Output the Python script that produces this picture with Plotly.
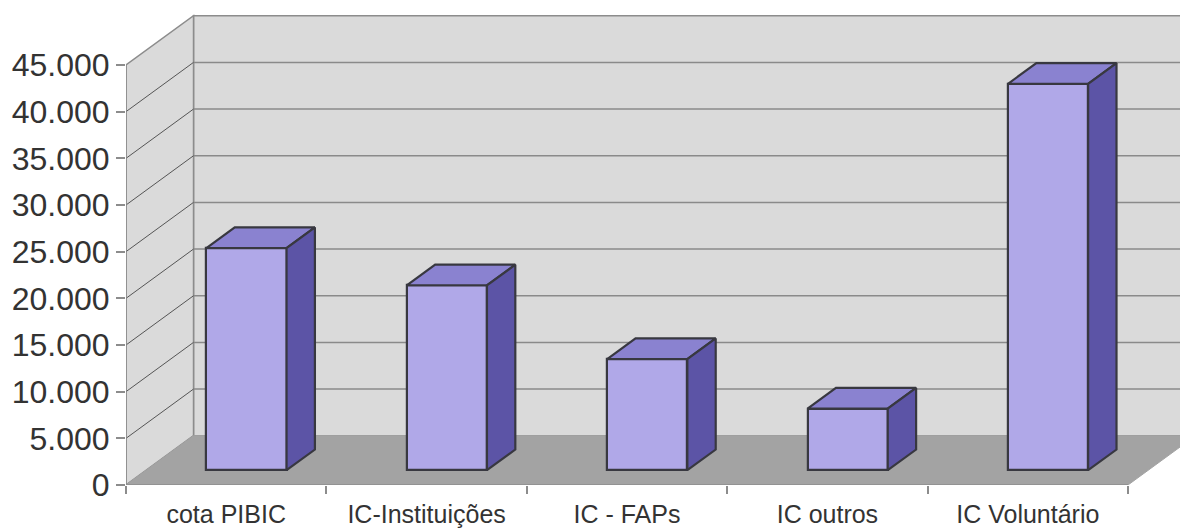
import plotly.graph_objects as go

# ---- data ----
categories = ["cota PIBIC", "IC-Instituições", "IC - FAPs", "IC outros", "IC Voluntário"]
values = [23800, 19800, 11900, 6600, 41400]
ytick_vals = [0, 5000, 10000, 15000, 20000, 25000, 30000, 35000, 40000, 45000]
ytick_text = ["0", "5.000", "10.000", "15.000", "20.000", "25.000", "30.000", "35.000", "40.000", "45.000"]

# ---- 3D projection parameters (oblique) ----
YMAX = 45000
DX = 0.337      # depth offset in category units
DY = 5280       # depth offset in value units
D0, D1 = 0.30, 0.72   # bar front/back depth fractions
HW = 0.2        # bar half width

n = len(categories)
x0, x1 = -0.5, n - 0.5

WALL = "#dadada"
FLOOR = "#a3a3a3"
EDGE = "#8c8c8c"
FRONT = "#b0a8e8"
TOP = "#8a82d0"
SIDE = "#5c54a6"
OUT = "#383840"

shapes = []
def poly(pts, fill, line, lw):
    path = "M " + " L ".join(f"{px},{py}" for px, py in pts) + " Z"
    shapes.append(dict(type="path", path=path, xref="x", yref="y", fillcolor=fill,
                       line=dict(color=line, width=lw), layer="below"))

# back wall
poly([(x0 + DX, DY), (x1 + DX, DY), (x1 + DX, YMAX + DY), (x0 + DX, YMAX + DY)], WALL, EDGE, 1.5)
# side wall
poly([(x0, 0), (x0 + DX, DY), (x0 + DX, YMAX + DY), (x0, YMAX)], WALL, EDGE, 1.5)
# floor
poly([(x0, 0), (x1, 0), (x1 + DX, DY), (x0 + DX, DY)], FLOOR, FLOOR, 1)

# gridlines
for v in ytick_vals[1:-1]:
    shapes.append(dict(type="line", xref="x", yref="y", x0=x0 + DX, x1=x1 + DX, y0=v + DY, y1=v + DY,
                       line=dict(color="#8a8a8a", width=1.5), layer="below"))
    shapes.append(dict(type="line", xref="x", yref="y", x0=x0, x1=x0 + DX, y0=v, y1=v + DY,
                       line=dict(color="#555555", width=1), layer="below"))
# front axis lines
shapes.append(dict(type="line", xref="x", yref="y", x0=x0, x1=x0, y0=0, y1=YMAX,
                   line=dict(color=EDGE, width=1.5), layer="below"))
shapes.append(dict(type="line", xref="x", yref="y", x0=x0, x1=x1, y0=0, y1=0,
                   line=dict(color=EDGE, width=1.5), layer="below"))

fig = go.Figure()

# front faces as bars
fig.add_trace(go.Bar(
    x=[i + D0 * DX for i in range(n)], y=values, base=[D0 * DY] * n, width=2 * HW,
    marker=dict(color=FRONT, line=dict(color=OUT, width=2.2)), hoverinfo="skip", showlegend=False))

# top and side faces
for i, v in enumerate(values):
    l = i - HW
    r = i + HW
    top = [(l + D0 * DX, v + D0 * DY), (r + D0 * DX, v + D0 * DY), (r + D1 * DX, v + D1 * DY), (l + D1 * DX, v + D1 * DY), (l + D0 * DX, v + D0 * DY)]
    side = [(r + D0 * DX, D0 * DY), (r + D1 * DX, D1 * DY), (r + D1 * DX, v + D1 * DY), (r + D0 * DX, v + D0 * DY), (r + D0 * DX, D0 * DY)]
    for pts, col in ((top, TOP), (side, SIDE)):
        fig.add_trace(go.Scatter(x=[p[0] for p in pts], y=[p[1] for p in pts], mode="lines",
                                 fill="toself", fillcolor=col, line=dict(color=OUT, width=2.2),
                                 hoverinfo="skip", showlegend=False))

# page has an 8px body margin; size the figure to fit the 1188x529 window
OFF = 8
W, H = 1188 - OFF, 529 - OFF
ml, mb = 126 - OFF, 529 - 485
pxu = (1128 - 126) / n
yscale = 420 / YMAX
fig.update_layout(
    width=W, height=H, margin=dict(l=ml, r=0, t=0, b=mb, autoexpand=False),
    paper_bgcolor="white", plot_bgcolor="white", shapes=shapes,
    font=dict(family="Liberation Sans, Arial, sans-serif", color="#333333"),
    xaxis=dict(range=[x0, x0 + (W - ml) / pxu], tickmode="array", tickvals=list(range(n)), ticktext=categories,
               showgrid=False, zeroline=False, showline=False, ticks="", tickfont=dict(size=25),
               ticklabelstandoff=12, automargin=False,
               minor=dict(tickmode="array", tickvals=[x0 + k for k in range(n + 1)], ticks="outside",
                          ticklen=8, tickcolor=EDGE, tickwidth=1.5, showgrid=False)),
    yaxis=dict(range=[0, (H - mb) / yscale], tickmode="array", tickvals=ytick_vals, ticktext=ytick_text,
               showgrid=False, zeroline=False, showline=False, ticks="outside", ticklen=9,
               tickcolor=EDGE, tickwidth=1.5, tickfont=dict(size=32), automargin=False),
    bargap=0,
)
fig.write_html("out.html")
